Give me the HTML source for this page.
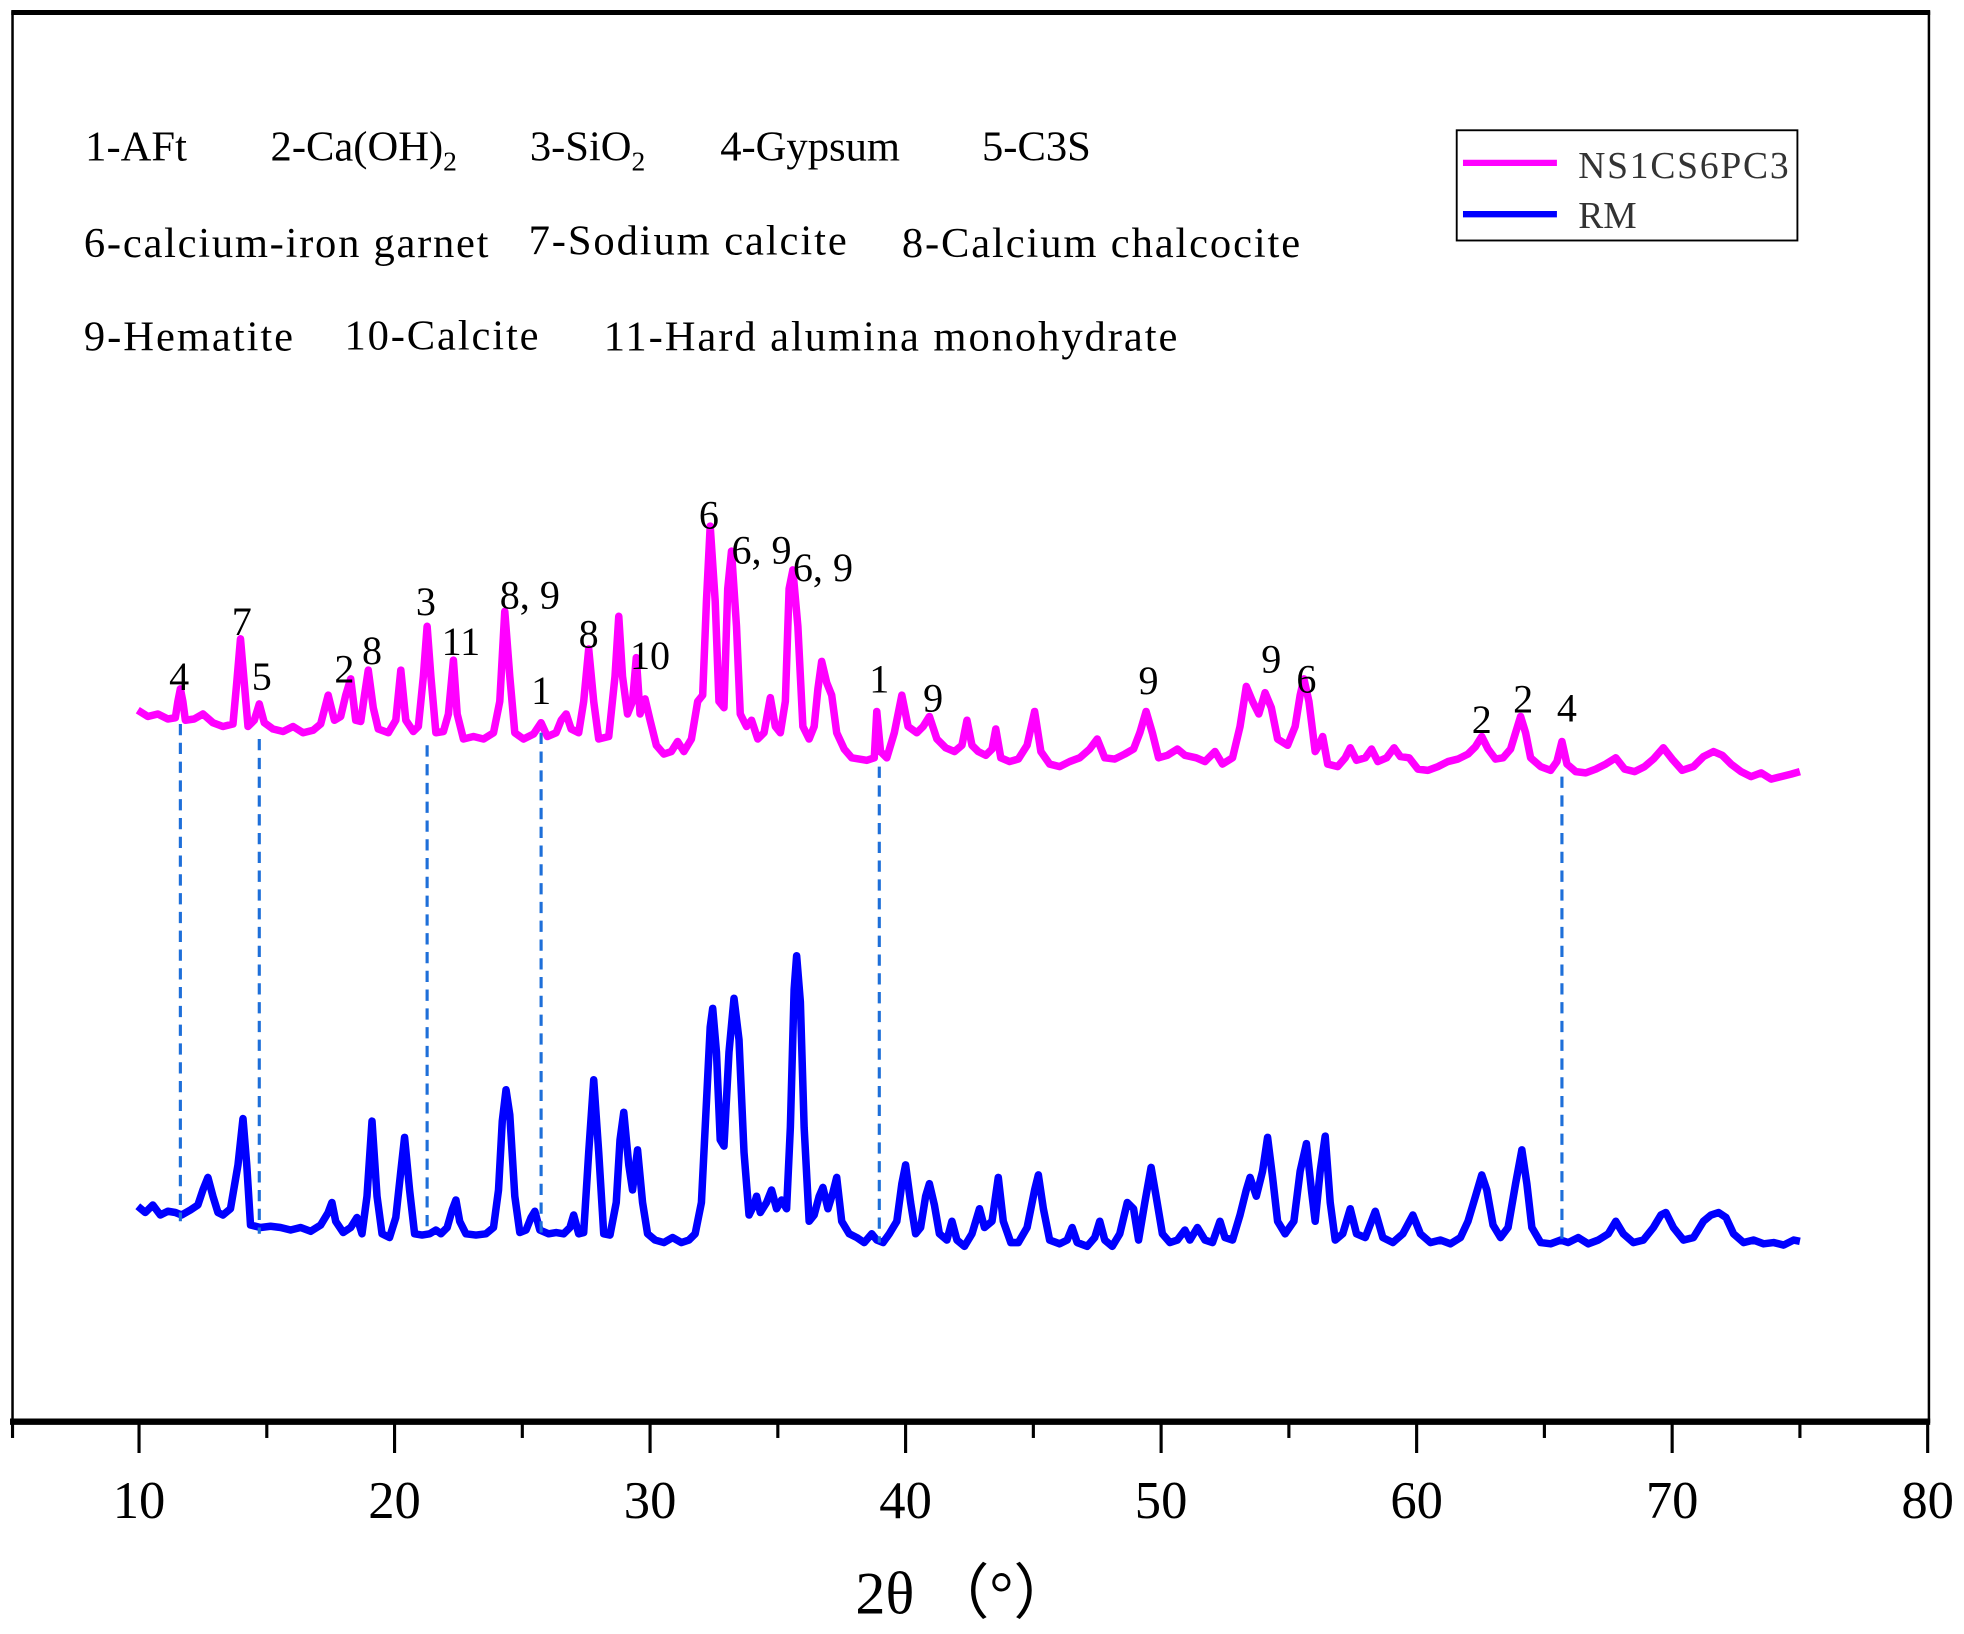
<!DOCTYPE html>
<html><head><meta charset="utf-8"><style>html,body{margin:0;padding:0;background:#fff}svg{display:block}</style></head>
<body>
<svg width="1964" height="1634" viewBox="0 0 1568 1304.5" preserveAspectRatio="none" xmlns="http://www.w3.org/2000/svg" font-family="Liberation Serif, serif">
<rect x="0" y="0" width="1568" height="1304.5" fill="#fff"/>
<polyline fill="none" stroke="#ff00ff" stroke-width="6" stroke-linejoin="round" points="110,567 118,572 126,570 134,574 140,573 142,560 144,550 146,560 148,575 155,574 162,570 170,577 178,580 186,578 189,545 192,510 195,545 198,580 203,575 207,562 211,577 218,582 226,584 234,580 242,585 250,583 256,578 262,555 267,575 272,572 276,555 280,542 284,575 288,576 291,555 294,535 298,565 302,582 310,585 316,575 320,535 324,575 330,584 334,580 338,540 341,500 344,540 348,585 354,584 358,570 362,527 365,570 370,590 378,588 386,590 394,585 399,560 403,488 407,540 411,585 418,590 426,586 432,577 437,588 444,585 448,575 452,570 456,582 462,585 466,560 470,518 474,560 478,590 486,588 491,540 494,492 497,540 501,570 505,560 508,525 511,570 515,558 519,575 524,595 530,602 536,600 541,592 546,600 552,590 557,560 561,555 564,480 567,420 571,480 574,560 578,565 581,470 584,440 588,500 591,570 596,580 600,575 605,590 610,585 615,557 619,580 623,585 627,560 630,470 633,455 637,500 641,580 646,590 650,580 653,550 656,528 660,545 664,555 668,585 674,598 680,605 686,606 692,607 698,605 700,568 703,600 708,605 714,585 720,555 725,580 732,585 737,580 742,572 748,590 755,597 762,600 768,595 772,575 776,595 781,600 787,603 792,598 795,582 799,605 806,608 813,606 820,595 826,568 831,600 838,610 846,612 854,608 862,605 870,598 876,590 882,605 890,606 898,602 905,598 910,585 915,568 920,585 925,605 932,603 940,598 946,603 955,605 962,608 970,600 976,610 984,605 990,580 995,548 1000,560 1005,570 1010,553 1015,565 1020,590 1028,595 1034,580 1038,555 1041,542 1045,560 1050,600 1053,595 1056,588 1060,610 1068,612 1074,605 1078,597 1083,607 1090,605 1095,598 1100,608 1107,605 1113,597 1118,604 1125,605 1132,614 1140,615 1148,612 1156,608 1164,606 1172,602 1178,596 1183,588 1188,598 1194,606 1200,605 1206,598 1210,585 1214,572 1218,585 1222,605 1230,612 1238,615 1243,608 1247,592 1251,610 1258,616 1266,617 1274,614 1282,610 1290,605 1297,614 1305,616 1313,612 1320,606 1328,597 1335,606 1343,615 1352,612 1360,604 1368,600 1375,603 1382,610 1390,616 1398,620 1406,617 1414,622 1422,620 1430,618 1437,616"/>
<polyline fill="none" stroke="#0000ff" stroke-width="6" stroke-linejoin="round" points="110,963 116,968 122,962 128,970 134,967 140,968 145,970 152,966 158,962 162,950 166,940 170,955 174,968 178,970 184,965 190,930 194,893 197,930 200,978 208,980 216,979 224,980 232,982 240,980 248,983 256,978 262,968 265,960 268,975 274,984 280,980 285,972 289,985 293,955 297,895 301,955 305,985 311,988 316,972 320,935 323,908 327,950 331,985 337,986 343,985 348,982 352,985 357,980 361,966 364,958 367,975 372,985 380,986 388,985 394,980 398,950 401,895 404,870 407,890 411,955 415,984 420,982 424,972 427,967 431,982 438,985 444,984 450,985 455,980 458,970 462,985 466,984 470,920 474,862 478,920 482,985 487,986 492,960 495,910 498,888 502,930 505,950 509,918 513,960 517,985 523,990 530,992 537,988 544,992 550,990 555,985 560,960 564,880 567,820 569,805 572,840 575,910 578,915 582,840 586,797 590,830 594,920 598,970 602,962 604,955 607,968 612,960 616,950 620,965 624,958 628,965 631,900 634,790 636,763 639,800 642,900 646,975 650,970 654,955 657,948 661,965 665,952 668,940 672,975 678,985 684,988 690,992 696,985 700,990 705,992 710,985 716,975 720,945 723,930 727,960 731,985 735,980 739,955 742,945 746,962 750,985 756,990 760,975 764,990 770,995 776,985 782,965 786,980 792,975 797,940 801,975 807,992 813,992 820,980 826,950 829,938 833,965 838,990 846,993 852,990 856,980 860,992 868,995 874,988 878,975 882,990 888,995 894,985 900,960 905,965 909,990 914,960 919,932 923,955 928,985 934,992 940,990 946,982 950,990 956,980 962,990 968,992 974,975 978,988 984,990 990,970 995,950 998,940 1003,955 1008,935 1012,908 1016,940 1020,975 1026,985 1033,975 1038,935 1043,913 1047,950 1050,975 1054,935 1058,907 1062,960 1066,990 1072,985 1078,965 1083,985 1090,988 1098,967 1104,988 1112,992 1120,985 1128,970 1134,985 1142,992 1150,990 1158,993 1166,988 1172,975 1178,955 1183,938 1187,950 1192,978 1198,988 1204,980 1210,945 1215,918 1219,945 1223,980 1230,992 1238,993 1246,990 1252,992 1260,988 1268,993 1276,990 1284,985 1290,975 1296,985 1304,992 1312,990 1320,980 1326,970 1330,968 1336,980 1344,990 1352,988 1360,975 1366,970 1372,968 1378,972 1384,985 1392,992 1400,990 1408,993 1416,992 1424,994 1432,990 1437,991"/>
<g stroke="#1e6fd9" stroke-width="2.5" stroke-dasharray="9,6">
<line x1="144" y1="578" x2="144" y2="975"/>
<line x1="207" y1="590" x2="207" y2="985"/>
<line x1="341" y1="595" x2="341" y2="985"/>
<line x1="432" y1="585" x2="432" y2="988"/>
<line x1="702" y1="612" x2="702" y2="992"/>
<line x1="1247" y1="620" x2="1247" y2="992"/>
</g>
<rect x="10" y="10" width="1530" height="1125" fill="none" stroke="#000" stroke-width="2"/>
<line x1="9" y1="10" x2="1541" y2="10" stroke="#000" stroke-width="4"/>
<line x1="8" y1="1135" x2="1541" y2="1135" stroke="#000" stroke-width="5"/>
<g stroke="#000" stroke-width="2.5">
<line x1="10" y1="1135" x2="10" y2="1148"/>
<line x1="111" y1="1135" x2="111" y2="1160"/><line x1="213" y1="1135" x2="213" y2="1148"/>
<line x1="315" y1="1135" x2="315" y2="1160"/><line x1="417" y1="1135" x2="417" y2="1148"/>
<line x1="519" y1="1135" x2="519" y2="1160"/><line x1="621" y1="1135" x2="621" y2="1148"/>
<line x1="723" y1="1135" x2="723" y2="1160"/><line x1="825" y1="1135" x2="825" y2="1148"/>
<line x1="927" y1="1135" x2="927" y2="1160"/><line x1="1029" y1="1135" x2="1029" y2="1148"/>
<line x1="1131" y1="1135" x2="1131" y2="1160"/><line x1="1233" y1="1135" x2="1233" y2="1148"/>
<line x1="1335" y1="1135" x2="1335" y2="1160"/><line x1="1437" y1="1135" x2="1437" y2="1148"/>
<line x1="1539" y1="1135" x2="1539" y2="1160"/>
</g>
<g font-size="42" text-anchor="middle">
<text x="111" y="1212">10</text><text x="315" y="1212">20</text><text x="519" y="1212">30</text><text x="723" y="1212">40</text>
<text x="927" y="1212">50</text><text x="1131" y="1212">60</text><text x="1335" y="1212">70</text><text x="1539" y="1212">80</text>
</g>
<text x="770" y="1288" font-size="48" text-anchor="middle">2θ （°）</text>
<g font-size="34">
<text x="68" y="128">1-AFt</text>
<text x="216" y="128">2-Ca(OH)<tspan font-size="22" dy="8">2</tspan></text>
<text x="423" y="128">3-SiO<tspan font-size="22" dy="8">2</tspan></text>
<text x="575" y="128">4-Gypsum</text>
<text x="784" y="128">5-C3S</text>
<text x="67" y="205" textLength="323">6-calcium-iron garnet</text>
<text x="422" y="203" textLength="254">7-Sodium calcite</text>
<text x="720" y="205" textLength="318">8-Calcium chalcocite</text>
<text x="67" y="280" textLength="167">9-Hematite</text>
<text x="275" y="279" textLength="155">10-Calcite</text>
<text x="482" y="280" textLength="458">11-Hard alumina monohydrate</text>
</g>
<rect x="1163" y="104" width="272" height="88" fill="#fff" stroke="#000" stroke-width="1.5"/>
<line x1="1168" y1="130" x2="1243" y2="130" stroke="#ff00ff" stroke-width="5"/>
<line x1="1168" y1="171" x2="1243" y2="171" stroke="#0000ff" stroke-width="5"/>
<g font-size="30" fill="#333"><text x="1260" y="142" textLength="168">NS1CS6PC3</text><text x="1260" y="182">RM</text></g>
<g font-size="32" text-anchor="middle">
<text x="143" y="551">4</text><text x="193" y="507">7</text><text x="209" y="551">5</text>
<text x="275" y="545">2</text><text x="297" y="530">8</text><text x="340" y="491">3</text>
<text x="368" y="523">11</text><text x="423" y="486">8, 9</text><text x="432" y="562">1</text>
<text x="470" y="517">8</text><text x="519" y="534">10</text><text x="566" y="422">6</text>
<text x="608" y="450">6, 9</text><text x="657" y="464">6, 9</text><text x="702" y="553">1</text>
<text x="745" y="568">9</text><text x="917" y="554">9</text><text x="1015" y="537">9</text>
<text x="1043" y="553">6</text><text x="1183" y="585">2</text><text x="1216" y="569">2</text>
<text x="1251" y="576">4</text>
</g>
</svg>
</body></html>
